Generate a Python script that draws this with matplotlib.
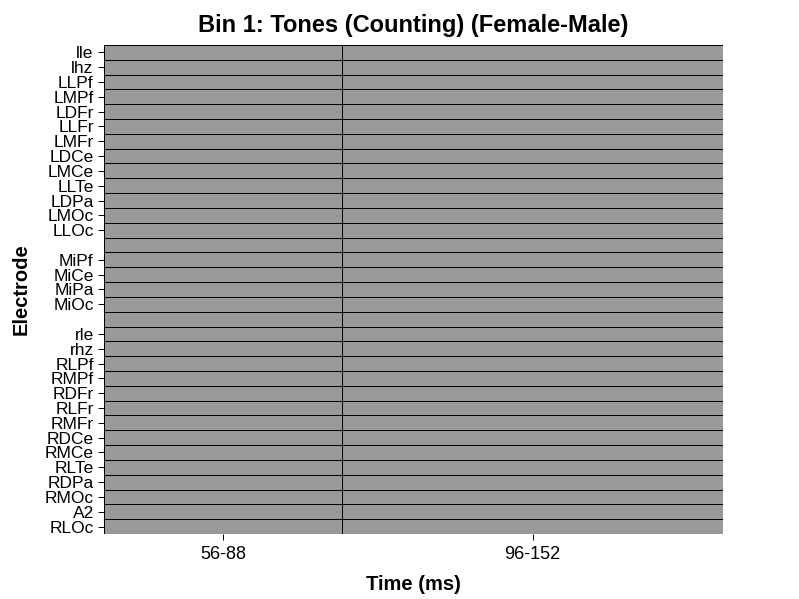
import matplotlib
matplotlib.use('Agg')
import matplotlib.pyplot as plt
import numpy as np

plt.rcParams['font.family'] = ['Liberation Sans', 'DejaVu Sans']

# electrodes top to bottom, '' marks a spacer row between groups
electrodes = ['lle', 'lhz', 'LLPf', 'LMPf', 'LDFr', 'LLFr', 'LMFr', 'LDCe', 'LMCe',
              'LLTe', 'LDPa', 'LMOc', 'LLOc', '',
              'MiPf', 'MiCe', 'MiPa', 'MiOc', '',
              'rle', 'rhz', 'RLPf', 'RMPf', 'RDFr', 'RLFr', 'RMFr', 'RDCe', 'RMCe',
              'RLTe', 'RDPa', 'RMOc', 'A2', 'RLOc']
windows = ['56-88', '96-152']
win_edges = [52, 92, 156]  # ms
# every cell non-significant (shown grey)
values = np.zeros((len(electrodes), len(windows)))

grey = '#999999'
n = len(electrodes)
y_edges = np.arange(n + 1)
vals = np.ma.masked_array(values, mask=np.array([[e == ''] * len(windows) for e in electrodes]))

fig = plt.figure(figsize=(7.99, 5.99), dpi=100)
ax = fig.add_axes([0.130, 0.1085, 0.775, 0.8165])
ax.set_facecolor(grey)
ax.pcolormesh(win_edges, y_edges, vals, cmap=matplotlib.colors.ListedColormap([grey]),
              edgecolors='black', linewidth=0.6)
ax.set_xlim(win_edges[0], win_edges[-1])
ax.set_ylim(n, 0)

for s in ax.spines.values():
    s.set_visible(False)

keep = [i for i, e in enumerate(electrodes) if e]
ax.set_yticks([i + 0.5 for i in keep])
ax.set_yticklabels([electrodes[i] for i in keep], fontsize=12.5)
centers = [(win_edges[i] + win_edges[i + 1]) / 2 for i in range(len(windows))]
ax.set_xticks(centers)
ax.set_xticklabels(windows, fontsize=13)
ax.tick_params(axis='y', length=4.3, width=0.7, pad=3)
ax.tick_params(axis='x', length=4.3, width=0.7, pad=4)

ax.set_title('Bin 1: Tones (Counting) (Female-Male)', fontsize=17, fontweight='bold', pad=9)
ax.set_xlabel('Time (ms)', fontsize=14.5, fontweight='bold', labelpad=9)
ax.set_ylabel('Electrode', fontsize=14.5, fontweight='bold', labelpad=10)

fig.savefig('out.png', dpi=100)
